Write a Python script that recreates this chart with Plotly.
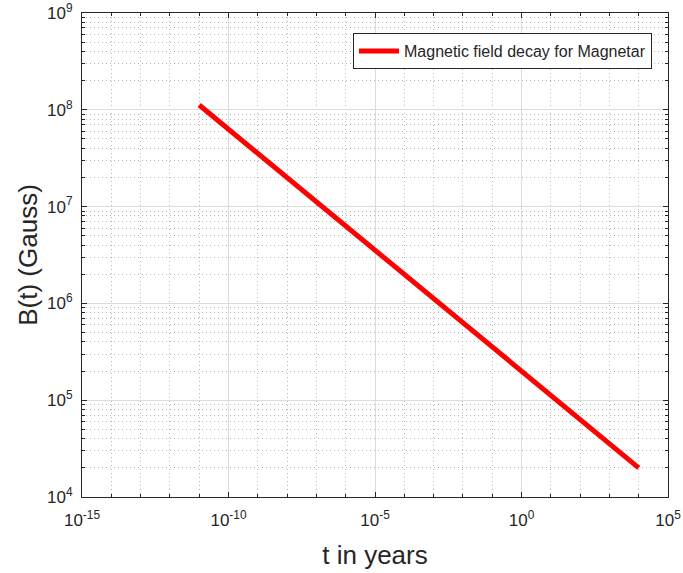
import plotly.graph_objects as go

# Data (power-law decay, straight on log-log axes)
t_years = [1e-11, 1e-8, 1e-5, 1e-2, 1e1, 1e4]
b_gauss = [1.12e8, 2.0e7, 3.56e6, 6.3e5, 1.12e5, 2.0e4]

x_major = [1e-15, 1e-10, 1e-5, 1e0, 1e5]
x_major_text = ["10<sup>-15</sup>", "10<sup>-10</sup>", "10<sup>-5</sup>", "10<sup>0</sup>", "10<sup>5</sup>"]
y_major = [1e4, 1e5, 1e6, 1e7, 1e8, 1e9]
y_major_text = ["10<sup>4</sup>", "10<sup>5</sup>", "10<sup>6</sup>", "10<sup>7</sup>", "10<sup>8</sup>", "10<sup>9</sup>"]

x_minor = [10.0 ** e for e in range(-15, 6) if e % 5 != 0]
y_minor = [m * 10.0 ** e for e in range(4, 9) for m in range(2, 10)]

ink = "#262626"
font = "Liberation Sans, Arial, Helvetica, sans-serif"

fig = go.Figure()
fig.add_trace(go.Scatter(
    x=t_years, y=b_gauss, mode="lines",
    line=dict(color="#ff0000", width=5),
    name="Magnetic field decay for Magnetar",
))

axis_common = dict(
    type="log", automargin=False,
    showline=True, linecolor=ink, linewidth=1, mirror="ticks",
    ticks="inside", ticklen=5, tickcolor=ink, tickwidth=1,
    showgrid=True, gridcolor="#dcdcdc", gridwidth=1,
    zeroline=False,
    tickfont=dict(family=font, size=17, color=ink),
)

fig.update_xaxes(
    **axis_common,
    range=[-15, 5],
    ticklabelstandoff=8,
    tickmode="array", tickvals=x_major, ticktext=x_major_text,
    minor=dict(tickmode="array", tickvals=x_minor, ticks="inside", ticklen=3,
               tickcolor=ink, showgrid=True, gridcolor="#b8b8b8", griddash="1px,3px", gridwidth=1),
    title=dict(text="t in years", font=dict(family=font, size=26, color=ink), standoff=16),
)
fig.update_yaxes(
    **axis_common,
    range=[4, 9],
    ticklabelstandoff=5,
    tickmode="array", tickvals=y_major, ticktext=y_major_text,
    minor=dict(tickmode="array", tickvals=y_minor, ticks="inside", ticklen=3,
               tickcolor=ink, showgrid=True, gridcolor="#b8b8b8", griddash="1px,3px", gridwidth=1),
    title=dict(text="B(t) (Gauss)", font=dict(family=font, size=26, color=ink), standoff=1),
)

fig.update_layout(
    width=683, height=573,
    margin=dict(l=82, r=15, t=13, b=76),
    paper_bgcolor="white", plot_bgcolor="white",
    showlegend=True,
    legend=dict(
        x=0.9727, y=0.9587, xanchor="right", yanchor="top",
        bgcolor="white", bordercolor=ink, borderwidth=1,
        font=dict(family=font, size=16, color=ink),
        itemwidth=40,
    ),
)

fig.write_html("out.html")
